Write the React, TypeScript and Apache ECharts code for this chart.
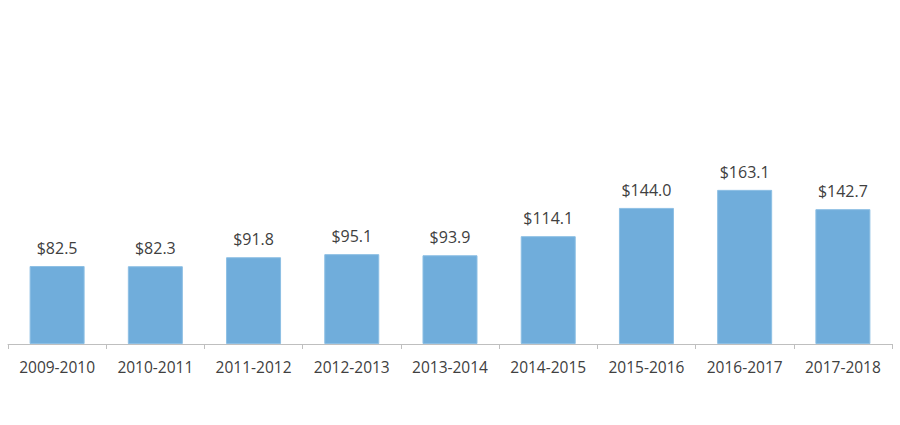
import React, { useEffect, useRef } from "react";
import * as echarts from "echarts";

const categories = ["2009-2010", "2010-2011", "2011-2012", "2012-2013", "2013-2014", "2014-2015", "2015-2016", "2016-2017", "2017-2018"];
const values = [82.5, 82.3, 91.8, 95.1, 93.9, 114.1, 144.0, 163.1, 142.7];

export default function App() {
  const ref = useRef<HTMLDivElement>(null);
  useEffect(() => {
    const chart = echarts.init(ref.current!, null, { renderer: "svg" });
    chart.setOption({
      animation: false,
      grid: { left: 8, right: 8, top: 60.5, bottom: 81, containLabel: false },
      xAxis: {
        type: "category",
        data: categories,
        axisLine: { lineStyle: { color: "#BFBFBF", width: 1 } },
        axisTick: { show: true, length: 5, interval: 0, lineStyle: { color: "#BFBFBF" } },
        axisLabel: { color: "#404040", fontSize: 15.5, fontFamily: "Open Sans", margin: 15, interval: 0, hideOverlap: false },
      },
      yAxis: {
        type: "value",
        min: 0,
        max: 300,
        show: false,
        splitLine: { show: false },
      },
      series: [
        {
          type: "bar",
          data: values,
          barWidth: "56%",
          itemStyle: { color: "#70ADDB", borderColor: "#8DBFE4", borderWidth: 1 },
          label: {
            show: true,
            position: "top",
            distance: 10,
            color: "#404040",
            fontSize: 16,
            fontFamily: "Open Sans",
            formatter: (p: any) => "$" + p.value.toFixed(1),
          },
        },
      ],
    });
    return () => chart.dispose();
  }, []);
  return <div ref={ref} style={{ width: 900, height: 425, position: "absolute", left: 0, top: 0, background: "#fff" }} />;
}
